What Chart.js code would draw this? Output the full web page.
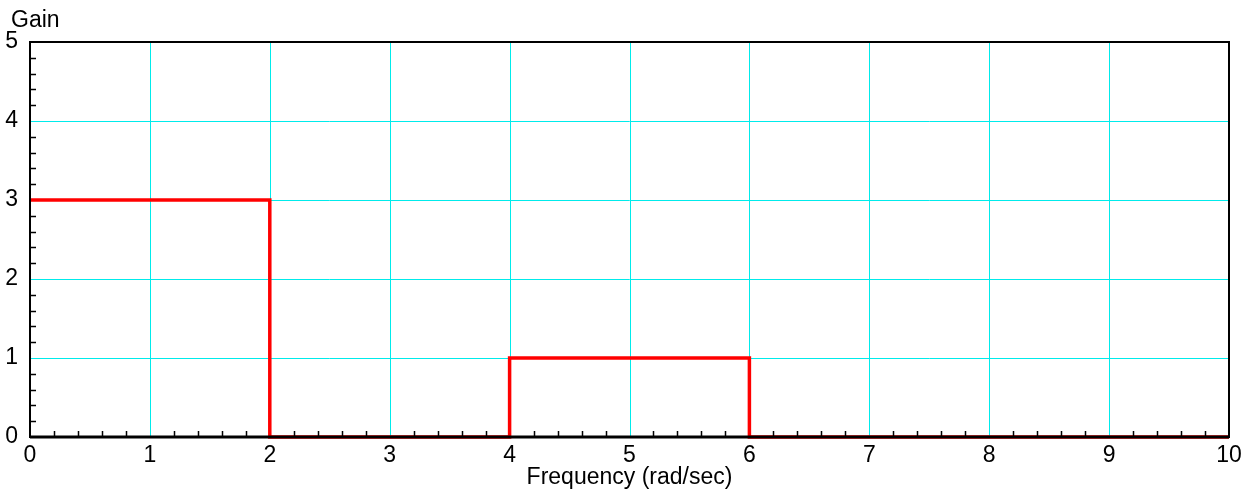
<!DOCTYPE html>
<html lang="en">
<head>
    <meta charset="UTF-8">
    <title>Gain vs Frequency</title>
    <style>
        body { margin: 0; background: #fff; }
        #wrap { width: 1254px; height: 491px; position: relative; }
    </style>
</head>
<body>
    <div id="wrap"><canvas id="gainChart"></canvas></div>
    <script src="https://cdn.jsdelivr.net/npm/chart.js"></script>
    <script>
        // step response of the filter, corner points
        const freq = [0, 2, 2, 4, 4, 6, 6, 10];
        const gain = [3, 3, 0, 0, 1, 1, 0, 0];
        const xTicks = [0, 1, 2, 3, 4, 5, 6, 7, 8, 9, 10];
        const yTicks = [0, 1, 2, 3, 4, 5];

        const FONT = { family: '"Liberation Sans", Arial, sans-serif', size: 23 };
        const GRID = 'rgb(0, 235, 235)';

        // cyan grid drawn under the data
        const gridPlugin = {
            id: 'cyanGrid',
            beforeDatasetsDraw(chart) {
                const { ctx, chartArea: a, scales: { x, y } } = chart;
                ctx.save();
                ctx.strokeStyle = GRID;
                ctx.lineWidth = 1;
                ctx.beginPath();
                xTicks.forEach(v => {
                    const px = Math.round(x.getPixelForValue(v)) + 0.5;
                    ctx.moveTo(px, a.top);
                    ctx.lineTo(px, a.bottom);
                });
                yTicks.forEach(v => {
                    const py = Math.round(y.getPixelForValue(v)) + 0.5;
                    ctx.moveTo(a.left, py);
                    ctx.lineTo(a.right, py);
                });
                ctx.stroke();
                ctx.restore();
            }
        };

        // frame + inward minor ticks + "Gain" label
        const framePlugin = {
            id: 'frame',
            afterDraw(chart) {
                const { ctx, chartArea: a, scales: { x, y } } = chart;
                ctx.save();
                ctx.strokeStyle = '#000';
                ctx.lineWidth = 1.5;
                ctx.beginPath();
                for (let i = 0; i < 50; i++) {
                    if (i % 5 === 0) continue;
                    const px = Math.round(x.getPixelForValue(i / 5)) + 0.5;
                    ctx.moveTo(px, a.bottom);
                    ctx.lineTo(px, a.bottom - 6);
                }
                for (let i = 0; i < 25; i++) {
                    if (i % 5 === 0) continue;
                    const py = Math.round(y.getPixelForValue(i / 5)) + 0.5;
                    ctx.moveTo(a.left, py);
                    ctx.lineTo(a.left + 6, py);
                }
                ctx.stroke();
                ctx.lineWidth = 2;
                ctx.strokeRect(a.left, a.top, a.right - a.left, a.bottom - a.top);
                ctx.lineWidth = 3;
                ctx.beginPath();
                ctx.moveTo(a.left, a.bottom);
                ctx.lineTo(a.right, a.bottom);
                ctx.stroke();
                ctx.fillStyle = '#000';
                ctx.font = `${FONT.size}px ${FONT.family}`;
                ctx.textBaseline = 'middle';
                ctx.textAlign = 'left';
                ctx.fillText('Gain', 11, 21);
                ctx.restore();
            }
        };

        new Chart(document.getElementById('gainChart'), {
            type: 'line',
            data: {
                labels: freq,
                datasets: [{
                    data: freq.map((f, i) => ({ x: f, y: gain[i] })),
                    borderColor: '#ff0000',
                    borderWidth: 3.5,
                    pointRadius: 0,
                    tension: 0,
                    clip: false
                }]
            },
            options: {
                responsive: true,
                maintainAspectRatio: false,
                animation: false,
                layout: { padding: { top: 42, right: 25, left: 0, bottom: 0 } },
                plugins: { legend: { display: false }, tooltip: { enabled: false } },
                scales: {
                    x: {
                        type: 'linear',
                        min: 0, max: 10,
                        afterBuildTicks: s => { s.ticks = xTicks.map(v => ({ value: v })); },
                        afterFit: s => { s.height = 54; },
                        ticks: { font: FONT, color: '#000', padding: 5, maxRotation: 0 },
                        grid: { display: false, drawTicks: false },
                        border: { display: false },
                        title: { display: true, text: 'Frequency (rad/sec)', font: FONT, color: '#000', padding: { top: 0, bottom: 0 } }
                    },
                    y: {
                        min: 0, max: 5,
                        afterBuildTicks: s => { s.ticks = yTicks.map(v => ({ value: v })); },
                        afterFit: s => { s.width = 30; },
                        ticks: { font: FONT, color: '#000', padding: 12 },
                        grid: { display: false, drawTicks: false },
                        border: { display: false }
                    }
                }
            },
            plugins: [gridPlugin, framePlugin]
        });
    </script>
</body>
</html>
